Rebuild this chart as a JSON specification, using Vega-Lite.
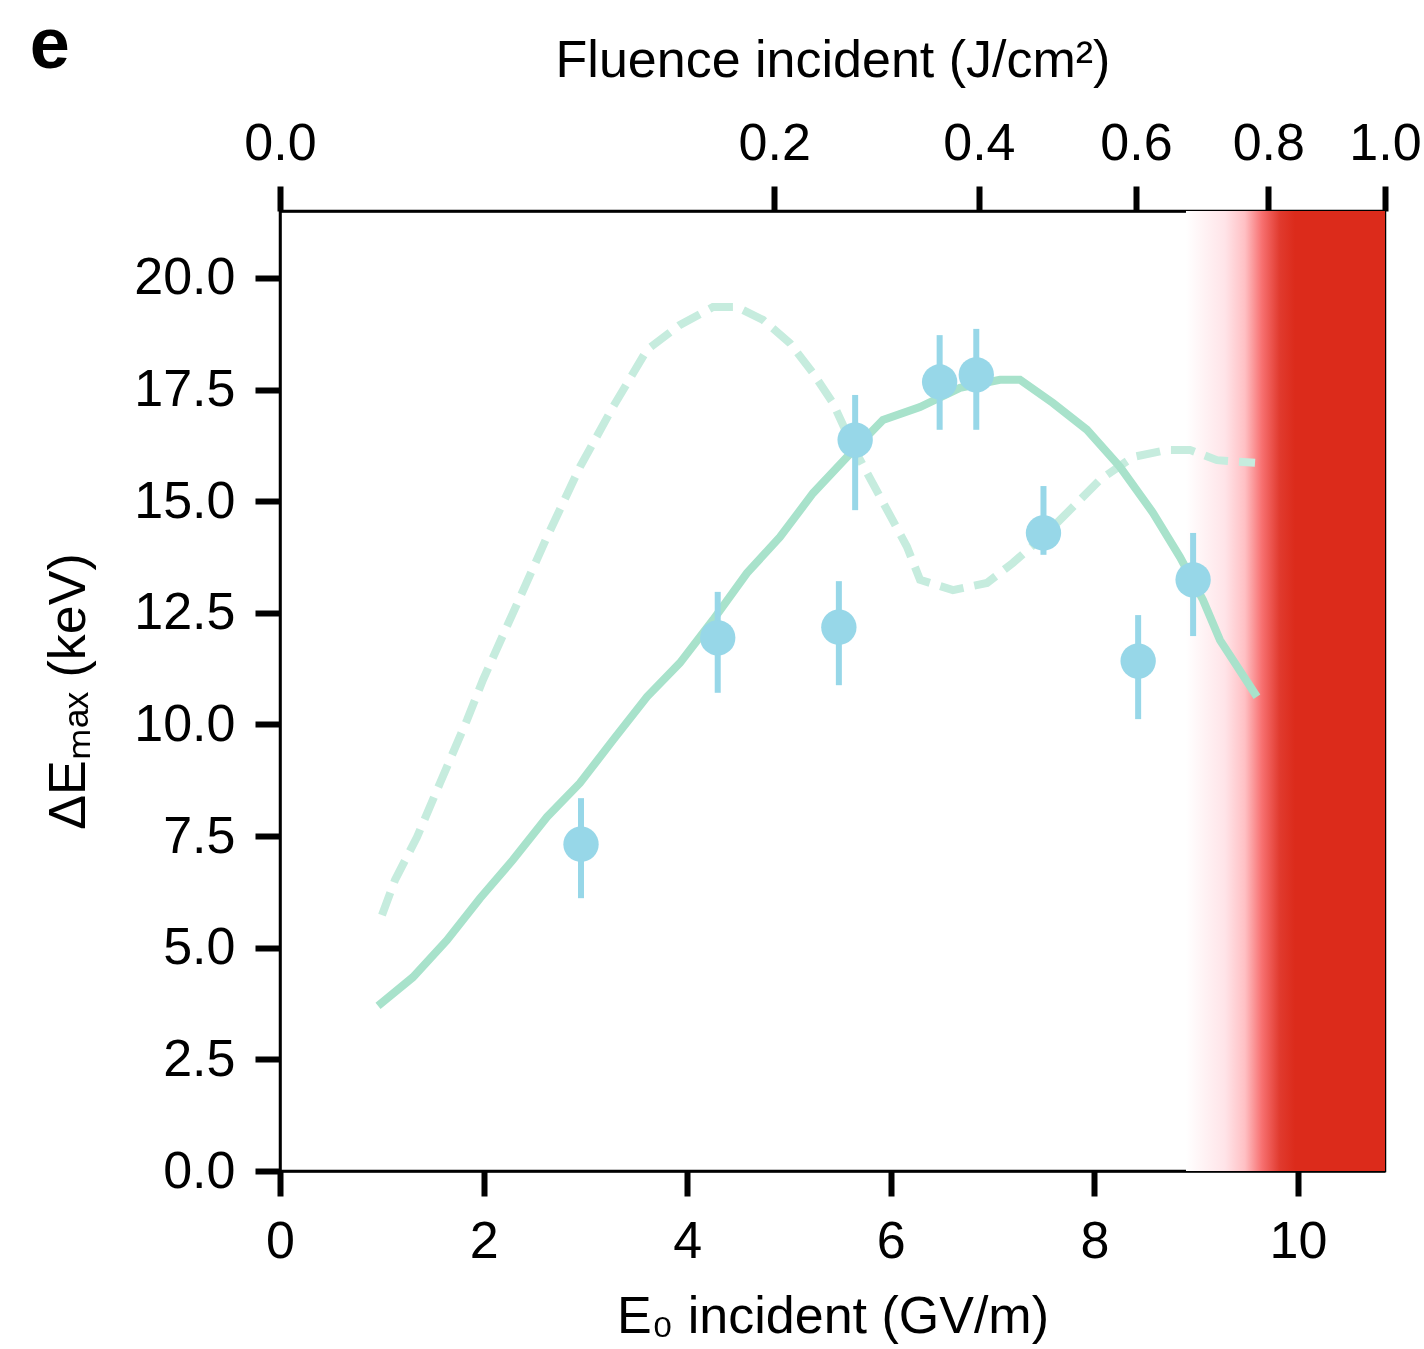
{
  "$schema": "https://vega.github.io/schema/vega-lite/v6.json",
  "width": 1105,
  "height": 960,
  "autosize": {"type": "none"},
  "padding": {"left": 280, "top": 211, "right": 39, "bottom": 178},
  "title": {"text": "e", "anchor": "start", "frame": "bounds", "fontSize": 72, "fontWeight": "bold", "font": "Liberation Sans", "color": "black", "dx": -13, "dy": 53},
  "datasets": {
    "sim": [
      {"E": 0.963, "dE": 3.70}, {"E": 1.306, "dE": 4.34}, {"E": 1.640, "dE": 5.17}, {"E": 1.965, "dE": 6.11},
      {"E": 2.289, "dE": 6.97}, {"E": 2.623, "dE": 7.93}, {"E": 2.947, "dE": 8.69}, {"E": 3.271, "dE": 9.65},
      {"E": 3.605, "dE": 10.62}, {"E": 3.929, "dE": 11.38}, {"E": 4.253, "dE": 12.34}, {"E": 4.587, "dE": 13.39},
      {"E": 4.912, "dE": 14.20}, {"E": 5.236, "dE": 15.18}, {"E": 5.570, "dE": 15.99}, {"E": 5.923, "dE": 16.82},
      {"E": 6.287, "dE": 17.11}, {"E": 6.680, "dE": 17.54}, {"E": 7.073, "dE": 17.72}, {"E": 7.269, "dE": 17.72},
      {"E": 7.593, "dE": 17.20}, {"E": 7.927, "dE": 16.60}, {"E": 8.251, "dE": 15.77}, {"E": 8.576, "dE": 14.74},
      {"E": 8.841, "dE": 13.75}, {"E": 9.067, "dE": 12.79}, {"E": 9.234, "dE": 11.89}, {"E": 9.597, "dE": 10.62}
    ],
    "sim2": [
      {"E": 1.002, "dE": 5.73}, {"E": 1.130, "dE": 6.52}, {"E": 1.346, "dE": 7.48}, {"E": 1.572, "dE": 8.69},
      {"E": 1.837, "dE": 10.10}, {"E": 1.994, "dE": 11.00}, {"E": 2.289, "dE": 12.50}, {"E": 2.623, "dE": 14.20},
      {"E": 2.947, "dE": 15.77}, {"E": 3.271, "dE": 17.11}, {"E": 3.605, "dE": 18.39}, {"E": 3.929, "dE": 18.95},
      {"E": 4.253, "dE": 19.35}, {"E": 4.489, "dE": 19.35}, {"E": 4.745, "dE": 19.06}, {"E": 5.010, "dE": 18.54},
      {"E": 5.236, "dE": 17.87}, {"E": 5.432, "dE": 17.20}, {"E": 5.629, "dE": 16.22}, {"E": 5.894, "dE": 15.10},
      {"E": 6.159, "dE": 13.98}, {"E": 6.287, "dE": 13.24}, {"E": 6.611, "dE": 13.01}, {"E": 6.945, "dE": 13.17},
      {"E": 7.200, "dE": 13.62}, {"E": 7.534, "dE": 14.29}, {"E": 7.859, "dE": 15.03}, {"E": 8.055, "dE": 15.48},
      {"E": 8.379, "dE": 15.99}, {"E": 8.713, "dE": 16.15}, {"E": 8.939, "dE": 16.15}, {"E": 9.204, "dE": 15.92},
      {"E": 9.578, "dE": 15.86}
    ],
    "exp": [
      {"E": 2.957, "dE": 7.32, "lo": 6.11, "hi": 8.35},
      {"E": 4.30, "dE": 11.94, "lo": 10.71, "hi": 12.97},
      {"E": 5.49, "dE": 12.18, "lo": 10.88, "hi": 13.21},
      {"E": 5.65, "dE": 16.37, "lo": 14.80, "hi": 17.38},
      {"E": 6.48, "dE": 17.67, "lo": 16.60, "hi": 18.72},
      {"E": 6.84, "dE": 17.83, "lo": 16.60, "hi": 18.86},
      {"E": 7.50, "dE": 14.29, "lo": 13.80, "hi": 15.34},
      {"E": 8.43, "dE": 11.42, "lo": 10.12, "hi": 12.45},
      {"E": 8.97, "dE": 13.24, "lo": 11.98, "hi": 14.29}
    ],
    "damage": [{"x0": 8.9, "x1": 10.855, "y0": 0, "y1": 21.5}],
    "fluence": [{"F": 0.0}, {"F": 0.2}, {"F": 0.4}, {"F": 0.6}, {"F": 0.8}, {"F": 1.0}]
  },
  "layer": [
    {
      "layer": [
        {
          "data": {"name": "damage"},
          "mark": {"type": "rect", "fill": {"gradient": "linear", "x1": 0, "y1": 0, "x2": 1, "y2": 0,
            "stops": [
              {"offset": 0, "color": "#ffffff"},
              {"offset": 0.196, "color": "#ffe4e8"},
              {"offset": 0.296, "color": "#ffc0c4"},
              {"offset": 0.382, "color": "#f77070"},
              {"offset": 0.472, "color": "#e03a2e"},
              {"offset": 0.548, "color": "#dc2b1b"},
              {"offset": 1, "color": "#dc2b1b"}
            ]}},
          "encoding": {
            "x": {"field": "x0", "type": "quantitative", "scale": {"domain": [0, 10.855], "nice": false, "zero": true},
              "axis": {"values": [0, 2, 4, 6, 8, 10], "format": "d", "title": "E₀ incident (GV/m)", "labelPadding": 20, "titlePadding": 24}},
            "x2": {"field": "x1"},
            "y": {"field": "y0", "type": "quantitative", "scale": {"domain": [0, 21.5], "nice": false, "zero": true},
              "axis": {"values": [0, 2.5, 5, 7.5, 10, 12.5, 15, 17.5, 20], "format": ".1f", "title": "ΔEₘₐₓ (keV)", "labelPadding": 20, "titlePadding": 38}},
            "y2": {"field": "y1"}
          }
        },
        {
          "data": {"name": "sim2"},
          "mark": {"type": "line", "color": "#c6ecde", "strokeWidth": 8, "strokeDash": [24, 11], "strokeCap": "butt"},
          "encoding": {"x": {"field": "E", "type": "quantitative"}, "y": {"field": "dE", "type": "quantitative"}}
        },
        {
          "data": {"name": "sim"},
          "mark": {"type": "line", "color": "#a8e2cb", "strokeWidth": 8},
          "encoding": {"x": {"field": "E", "type": "quantitative"}, "y": {"field": "dE", "type": "quantitative"}}
        },
        {
          "data": {"name": "exp"},
          "mark": {"type": "rule", "color": "#97d7e8", "strokeWidth": 6},
          "encoding": {"x": {"field": "E", "type": "quantitative"}, "y": {"field": "lo", "type": "quantitative"}, "y2": {"field": "hi"}}
        },
        {
          "data": {"name": "exp"},
          "mark": {"type": "circle", "color": "#97d7e8", "opacity": 1, "size": 1250},
          "encoding": {"x": {"field": "E", "type": "quantitative"}, "y": {"field": "dE", "type": "quantitative"}}
        }
      ]
    },
    {
      "data": {"name": "fluence"},
      "mark": {"type": "point", "opacity": 0},
      "encoding": {
        "x": {"field": "F", "type": "quantitative", "scale": {"type": "sqrt", "domain": [0, 1], "nice": false},
          "axis": {"orient": "top", "values": [0, 0.2, 0.4, 0.6, 0.8, 1.0], "format": ".1f", "title": "Fluence incident (J/cm²)", "labelPadding": 16, "titlePadding": 30}}
      }
    }
  ],
  "resolve": {"scale": {"x": "independent"}},
  "config": {
    "view": {"stroke": "black", "strokeWidth": 2.5},
    "axis": {
      "labelFont": "Liberation Sans", "titleFont": "Liberation Sans",
      "labelFontSize": 52, "titleFontSize": 52, "titleFontWeight": "normal",
      "labelColor": "black", "titleColor": "black", "labelFlush": false, "labelOverlap": false,
      "domainColor": "black", "domainWidth": 2.5,
      "tickColor": "black", "tickWidth": 6, "tickSize": 25, "grid": false
    }
  }
}
